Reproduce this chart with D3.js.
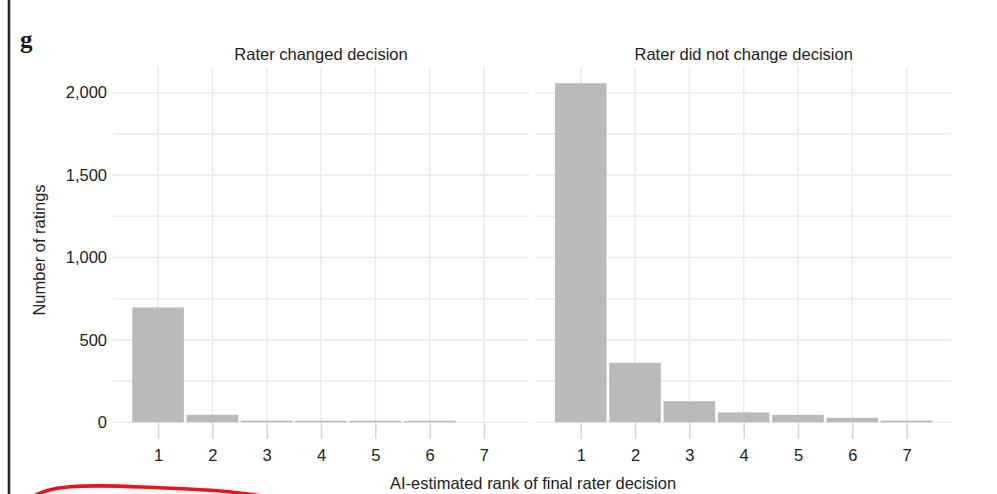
<!DOCTYPE html>
<html>
<head>
<meta charset="utf-8">
<script src="https://cdn.jsdelivr.net/npm/d3@7"></script>
<style>
  html, body { margin: 0; padding: 0; background: #fff; }
  svg { display: block; }
  text { font-family: "Liberation Sans", Arial, sans-serif; fill: #222; }
</style>
</head>
<body>
<svg id="chart" width="997" height="494"></svg>
<script>
// Counts of ratings by AI-estimated rank of the final rater decision
const ranks = [1, 2, 3, 4, 5, 6, 7];
const panelTitles = ["Rater changed decision", "Rater did not change decision"];
const changedCounts = [697, 46, 10, 9, 9, 9, 0];
const unchangedCounts = [2058, 361, 128, 60, 45, 27, 10];
const yTickValues = [0, 500, 1000, 1500, 2000];
const yGridValues = [0, 250, 500, 750, 1000, 1250, 1500, 1750, 2000];
const xTitle = "AI-estimated rank of final rater decision";
const yTitle = "Number of ratings";
const panelTag = "g";

const seriesByPanel = [changedCounts, unchangedCounts];

const svg = d3.select("#chart");
const W = 997, H = 494;

const panelTop = 67, panelBottom = 422.3;
const panelWidth = 416;
const panelLefts = [113, 535.7];

const y = d3.scaleLinear().domain([0, 2156]).range([panelBottom, panelTop]);

const gridColor = "#ebebeb";
const barColor = "#bababa";
const textColor = "#222";

// frame line on the left edge
svg.append("line")
  .attr("x1", 9).attr("x2", 9).attr("y1", 0).attr("y2", H)
  .attr("stroke", "#262626").attr("stroke-width", 2.6);

// panel tag
svg.append("text")
  .attr("x", 20).attr("y", 48)
  .style("font-family", "'Liberation Serif', 'Times New Roman', serif")
  .style("font-weight", "bold")
  .style("font-size", "25px")
  .style("fill", "#1a1a1a")
  .text(panelTag);

panelTitles.forEach((title, i) => {
  const left = panelLefts[i];
  const x = d3.scaleLinear().domain([0.17, 7.83]).range([left, left + panelWidth]);
  const g = svg.append("g");

  // horizontal grid
  g.selectAll("line.hgrid").data(yGridValues).join("line")
    .attr("class", "hgrid")
    .attr("x1", left).attr("x2", left + panelWidth)
    .attr("y1", d => y(d)).attr("y2", d => y(d))
    .attr("stroke", gridColor).attr("stroke-width", 1.6);

  // vertical grid
  g.selectAll("line.vgrid").data(ranks).join("line")
    .attr("class", "vgrid")
    .attr("x1", d => x(d)).attr("x2", d => x(d))
    .attr("y1", panelTop).attr("y2", panelBottom)
    .attr("stroke", gridColor).attr("stroke-width", 1.6);

  // bars
  const counts = seriesByPanel[i];
  const bw = 0.95;
  g.selectAll("rect.bar").data(ranks.map((r, j) => ({ r, v: counts[j] }))).join("rect")
    .attr("class", "bar")
    .attr("x", d => x(d.r - bw / 2))
    .attr("width", d => x(d.r + bw / 2) - x(d.r - bw / 2))
    .attr("y", d => y(d.v))
    .attr("height", d => y(0) - y(d.v))
    .attr("fill", barColor);

  // strip title
  svg.append("text")
    .attr("x", left + panelWidth / 2).attr("y", 60)
    .attr("text-anchor", "middle")
    .style("font-size", "16.5px")
    .text(title);

  // x axis
  const xAxis = svg.append("g")
    .attr("transform", `translate(0,${panelBottom + 0.7})`)
    .call(d3.axisBottom(x).tickValues(ranks).tickFormat(d3.format("d")).tickSize(16).tickPadding(10));
  xAxis.select(".domain").remove();
  xAxis.selectAll(".tick line").attr("stroke", "#d6d6d6").attr("stroke-width", 1.6);
  xAxis.selectAll(".tick text")
    .style("font-family", "'Liberation Sans', Arial, sans-serif")
    .style("font-size", "16.5px").attr("fill", textColor);

  // y axis on the first panel only
  if (i === 0) {
    const yAxis = svg.append("g")
      .attr("transform", `translate(${left},0)`)
      .call(d3.axisLeft(y).tickValues(yTickValues).tickFormat(d3.format(",")).tickSize(0).tickPadding(6));
    yAxis.select(".domain").remove();
    yAxis.selectAll(".tick text")
      .style("font-family", "'Liberation Sans', Arial, sans-serif")
      .style("font-size", "16.5px").attr("fill", textColor);
  }
});

// axis titles
svg.append("text")
  .attr("x", 533).attr("y", 489)
  .attr("text-anchor", "middle")
  .style("font-size", "16.5px")
  .text(xTitle);

svg.append("text")
  .attr("transform", "translate(45,250) rotate(-90)")
  .attr("text-anchor", "middle")
  .style("font-size", "16.5px")
  .text(yTitle);

// hand-drawn red stroke along the bottom
const strokePts = [[30, 498], [45, 490], [70, 486.3], [100, 485.5], [140, 486.8], [190, 489], [230, 491.5], [262, 496]];
svg.append("path")
  .attr("d", d3.line().curve(d3.curveBasis)(strokePts))
  .attr("fill", "none")
  .attr("stroke", "#e8141c")
  .attr("stroke-width", 3.6)
  .attr("stroke-linecap", "round");
</script>
</body>
</html>
